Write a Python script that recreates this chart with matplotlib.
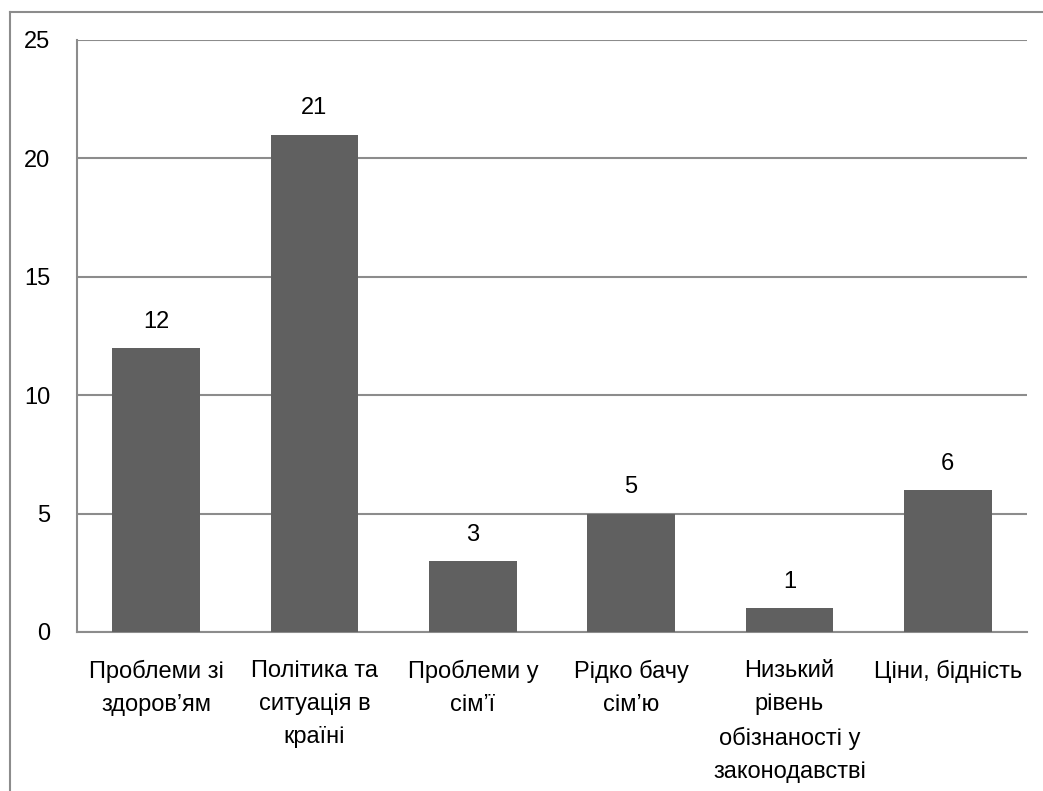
import matplotlib.pyplot as plt
from matplotlib.lines import Line2D

categories = [
    "Проблеми зі\nздоров’ям",
    "Політика та\nситуація в\nкраїні",
    "Проблеми у\nсім’ї",
    "Рідко бачу\nсім’ю",
    "Низький\nрівень\nобізнаності у\nзаконодавстві",
    "Ціни, бідність",
]
values = [12, 21, 3, 5, 1, 6]
y_ticks = [0, 5, 10, 15, 20, 25]

BAR_COLOR = "#606060"
GRID_COLOR = "#8c8c8c"
FONT_SIZE = 17

plt.rcParams["font.family"] = ["Liberation Sans", "DejaVu Sans"]

fig = plt.figure(figsize=(10.43, 7.91), dpi=100)
ax = fig.add_axes([77 / 1043, 1 - 632 / 791, 950 / 1043, 592 / 791])

x = list(range(len(values)))
bars = ax.bar(x, values, width=0.555, color=BAR_COLOR, zorder=3)
for rect, v in zip(bars, values):
    ax.annotate(str(v), (rect.get_x() + rect.get_width() / 2, v),
                xytext=(0, 11), textcoords="offset points",
                ha="center", va="bottom", fontsize=FONT_SIZE, color="black")

ax.set_xlim(-0.5, len(values) - 0.5)
ax.set_ylim(0, 25)
ax.set_yticks(y_ticks)
ax.set_yticklabels([str(t) for t in y_ticks], fontsize=FONT_SIZE)
ax.set_xticks(x)
ax.set_xticklabels(categories, fontsize=FONT_SIZE, linespacing=1.65, va="top")
ax.tick_params(axis="both", length=0)
ax.tick_params(axis="y", pad=19)
ax.tick_params(axis="x", pad=20)

ax.yaxis.grid(True, color=GRID_COLOR, linewidth=1.5, zorder=0)
for side in ("top", "right"):
    ax.spines[side].set_visible(False)
for side in ("left", "bottom"):
    ax.spines[side].set_color(GRID_COLOR)
    ax.spines[side].set_linewidth(1.5)

# outer chart border (left and top edges visible in the reference)
fig.add_artist(Line2D([9.5 / 1043, 9.5 / 1043], [0, 1 - 12 / 791],
                      transform=fig.transFigure, color=GRID_COLOR, linewidth=1.5))
fig.add_artist(Line2D([9.5 / 1043, 1], [1 - 12 / 791, 1 - 12 / 791],
                      transform=fig.transFigure, color=GRID_COLOR, linewidth=1.5))

fig.savefig("out.png", dpi=100)
